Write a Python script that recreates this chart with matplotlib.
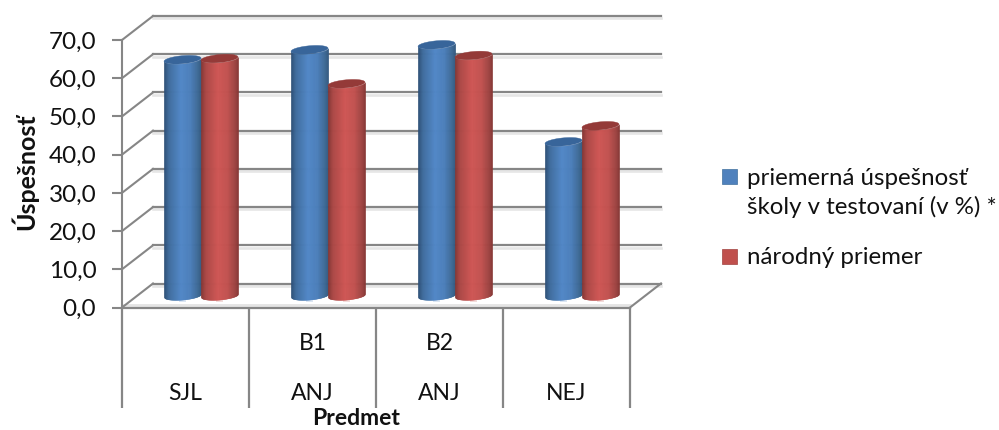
import numpy as np
import matplotlib
matplotlib.use("Agg")
import matplotlib.pyplot as plt
from matplotlib.colors import LinearSegmentedColormap
from matplotlib.patches import Rectangle, Polygon
from matplotlib.transforms import ScaledTranslation, IdentityTransform

categories_top = ["", "B1", "B2", ""]
categories_bottom = ["SJL", "ANJ", "ANJ", "NEJ"]
school = [61.7, 64.3, 65.6, 40.2]
national = [62.0, 55.4, 62.8, 44.4]
yticks = [0, 10, 20, 30, 40, 50, 60, 70]
series_names = ["priemerná úspešnosť\nškoly v testovaní (v %) *", "národný priemer"]
y_title = "Úspešnosť"
x_title = "Predmet"

W, H = 999, 430
GRID = "#868686"
FONT = "Lato"
fig = plt.figure(figsize=(W / 100, H / 100), dpi=100, facecolor="white")
L, R, T, B = 122, 630, 40, 307.5
ax = fig.add_axes([L / W, 1 - B / H, (R - L) / W, (B - T) / H])
ax.set_xlim(0, 4)
ax.set_ylim(0, 70)
ax.patch.set_visible(False)
for s in ["top", "right", "bottom"]:
    ax.spines[s].set_visible(False)
ax.spines["left"].set(color=GRID, linewidth=1.5)
ax.set_yticks(yticks, [f"{v:.1f}".replace(".", ",") for v in yticks])
ax.tick_params(axis="y", length=7.5, width=1.5, color=GRID, pad=11, labelsize=17.5, labelcolor="#111111")
for t in ax.get_yticklabels():
    t.set_fontfamily(FONT)
    t.set_y(t.get_position()[1])
ax.set_xticks([])


def depth(frac):
    return ax.transData + ScaledTranslation(31 * frac / 100, 24 * frac / 100, fig.dpi_scale_trans)


back = depth(1)
mid = depth(0.5)
pix = IdentityTransform()
# floor shading and back-wall gridlines
for v in yticks:
    ax.plot([0, 4], [v - 0.6, v - 0.6], transform=back, color="#e6e6e6", lw=1.9, clip_on=False, zorder=1)
    ax.plot([0, 4], [v, v], transform=back, color=GRID, lw=1.6, clip_on=False, zorder=1.2)
    # side wall: front-plane point to back-plane point
    x0, y0 = ax.transData.transform((0, v))
    x1, y1 = back.transform((0, v))
    ax.plot([x0, x1], [y0, y1], transform=pix, color=GRID, lw=1.5, clip_on=False, zorder=1.2)
x0, y0 = ax.transData.transform((4, 0))
x1, y1 = back.transform((4, 0))
ax.plot([x0, x1], [y0, y1], transform=pix, color=GRID, lw=1.5, clip_on=False, zorder=1.2)
ax.plot([0, 4], [0.55, 0.55], color="#e4e4e4", lw=2.0, clip_on=False, zorder=1)
ax.plot([0, 4], [0, 0], color=GRID, lw=1.6, clip_on=False, zorder=1.3)

# category dividers under the floor
xf = ax.get_xaxis_transform()
bottom_frac = (B - 408) / (B - T)
ax.vlines(range(5), bottom_frac, 0, transform=xf, color=GRID, lw=1.6, clip_on=False, zorder=1.3)
for i in range(4):
    ax.text(i + 0.5, (B - 344) / (B - T), categories_top[i], transform=xf, ha="center", va="center",
            fontsize=16.5, family=FONT, color="#111111")
    ax.text(i + 0.5, (B - 394) / (B - T), categories_bottom[i], transform=xf, ha="center", va="center",
            fontsize=16.5, family=FONT, color="#111111")

blue_map = LinearSegmentedColormap.from_list("b", [(0, "#2d4f77"), (0.12, "#3f6c9d"), (0.45, "#5187c7"),
                                                   (0.7, "#4c7fbb"), (0.92, "#3d6893"), (1, "#34597f")])
red_map = LinearSegmentedColormap.from_list("r", [(0, "#863634"), (0.12, "#ab4846"), (0.45, "#cf5654"),
                                                  (0.7, "#c25250"), (0.92, "#9c4341"), (1, "#863735")])
BAR_W = 0.291
ELL = 1.05
TILT = 0.42


def cylinder(cx, value, cmap, cap, glow, z):
    t = np.linspace(-1, 1, 81)
    for a, b in zip(t[:-1], t[1:]):
        tm = np.array([a, b])
        xs = cx + tm * BAR_W / 2
        s = np.sqrt(1 - tm ** 2)
        lo = TILT * tm - ELL * s
        hi = value + TILT * tm - ELL * s
        c = cmap((a + 1) / 2)
        ax.fill_between(xs, lo, hi, transform=mid, color=c, lw=0.3, clip_on=False, zorder=z)
    th = np.linspace(0, 2 * np.pi, 80)
    ex = cx + np.cos(th) * BAR_W / 2
    ey = value + TILT * np.cos(th) + ELL * np.sin(th)
    ax.add_patch(Polygon(np.c_[ex, ey], closed=True, transform=mid, fc=cap, ec=cap, lw=0.3, clip_on=False, zorder=z + 0.1))
    # pale reflection just under the base
    ax.fill_between([cx - 0.03, cx + 0.03], -1.6, -1.0, transform=mid, color=glow, lw=0, clip_on=False, zorder=2)


for i, (a, b) in enumerate(zip(school, national)):
    cylinder(i + 0.5 - BAR_W / 2, a, blue_map, "#38659a", "#dce6f2", 3)
    cylinder(i + 0.5 + BAR_W / 2, b, red_map, "#943a38", "#f2dcdb", 4)

fig.text(356 / W, 1 - 425 / H, x_title, ha="center", va="baseline", fontsize=16.5, fontweight="bold", family=FONT, color="#111111")
fig.text(25 / W, 1 - 172 / H, y_title, ha="center", va="center", rotation=90, fontsize=18, fontweight="bold", family=FONT, color="#111111")

# legend
fig.add_artist(Rectangle((722 / W, 1 - 184 / H), 15 / W, 15 / H, transform=fig.transFigure, fc="#4f81bd", ec="#41709f", lw=0.5))
fig.add_artist(Rectangle((722 / W, 1 - 264 / H), 15 / W, 15 / H, transform=fig.transFigure, fc="#c0504d", ec="#a04240", lw=0.5))
fig.text(747 / W, 1 - 193 / H, series_names[0], ha="left", va="center", fontsize=17.3, family=FONT, color="#111111", linespacing=1.33)
fig.text(747 / W, 1 - 257 / H, series_names[1], ha="left", va="center", fontsize=17.3, family=FONT, color="#111111")

fig.savefig("out.png", dpi=100)
